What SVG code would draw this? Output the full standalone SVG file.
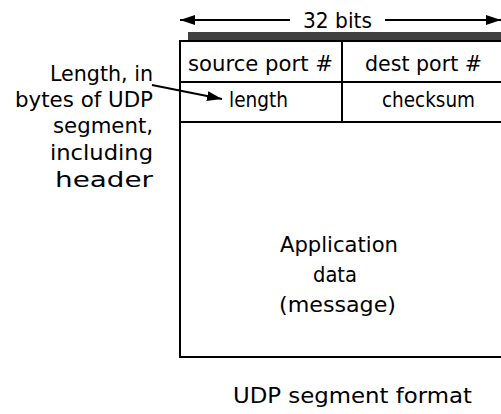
<svg xmlns="http://www.w3.org/2000/svg" width="501" height="414" viewBox="0 0 501 414">
  <style>
    text { font-family: "DejaVu Sans", "Liberation Sans", sans-serif; fill: #000; }
    .cell { font-size: 21px; }
    .note { font-size: 21px; }
    .big { font-size: 22px; }
    .grid { stroke: #000; stroke-width: 2; fill: none; }
    .conn { stroke: #000; stroke-width: 2; fill: none; }
  </style>
  <defs>
    <marker id="head" viewBox="0 0 15 10" refX="15" refY="5" markerWidth="15" markerHeight="10" markerUnits="userSpaceOnUse" orient="auto">
      <path d="M0,0 L15,5 L0,10 Z" fill="#000"/>
    </marker>
  </defs>

  <rect width="501" height="414" fill="#fff"/>

  <!-- 32-bit width indicator -->
  <g id="width-scale">
    <line class="conn" x1="290" y1="20" x2="180" y2="20" marker-end="url(#head)"/>
    <line class="conn" x1="385" y1="20" x2="501" y2="20" marker-end="url(#head)"/>
    <text class="big" x="303" y="28" textLength="69" lengthAdjust="spacingAndGlyphs">32 bits</text>
    <rect x="188" y="32" width="313" height="8" fill="#404040"/>
  </g>

  <!-- segment layout -->
  <g id="segment">
    <path class="grid" d="M501,41 H180 V357 H501 M180,82 H501 M180,122 H501 M342,41 V122"/>
  </g>

  <g id="source-port">
    <text class="cell" x="188" y="71" textLength="145" lengthAdjust="spacingAndGlyphs">source port #</text>
  </g>
  <g id="dest-port">
    <text class="cell" x="365" y="71" textLength="117" lengthAdjust="spacingAndGlyphs">dest port #</text>
  </g>
  <g id="length">
    <text class="cell" x="229" y="107" textLength="59" lengthAdjust="spacingAndGlyphs">length</text>
  </g>
  <g id="checksum">
    <text class="cell" x="382" y="107" textLength="93" lengthAdjust="spacingAndGlyphs">checksum</text>
  </g>
  <g id="app-data">
    <text class="big" x="280" y="252" textLength="118" lengthAdjust="spacingAndGlyphs">Application</text>
    <text class="big" x="313" y="282" textLength="44" lengthAdjust="spacingAndGlyphs">data</text>
    <text class="big" x="279" y="312" textLength="117" lengthAdjust="spacingAndGlyphs">(message)</text>
  </g>

  <!-- annotation -->
  <g id="length-note">
    <text class="note" x="50" y="81" textLength="103" lengthAdjust="spacingAndGlyphs">Length, in</text>
    <text class="note" x="15" y="107" textLength="138" lengthAdjust="spacingAndGlyphs">bytes of UDP</text>
    <text class="note" x="53" y="133" textLength="100" lengthAdjust="spacingAndGlyphs">segment,</text>
    <text class="note" x="50" y="160" textLength="103" lengthAdjust="spacingAndGlyphs">including</text>
    <text class="note" x="55" y="187" textLength="98" lengthAdjust="spacingAndGlyphs">header</text>
  </g>

  <g id="connectors">
    <line class="conn" x1="152" y1="85" x2="222" y2="99" marker-end="url(#head)"/>
  </g>

  <g id="caption">
    <text class="big" x="233" y="403" textLength="239" lengthAdjust="spacingAndGlyphs">UDP segment format</text>
  </g>
</svg>
